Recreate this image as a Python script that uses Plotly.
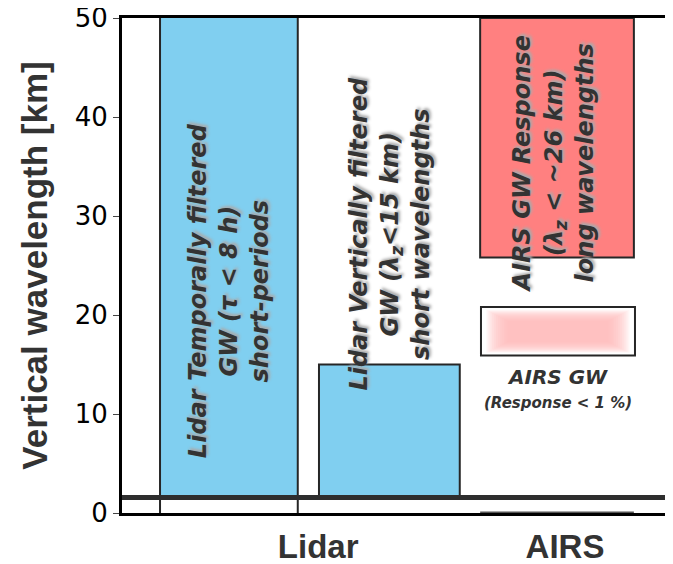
import plotly.graph_objects as go

# ---- data ----
categories = ["Lidar", "AIRS"]
category_pos = [3.56, 8.04]
y_ticks = [0, 10, 20, 30, 40, 50]

# boxes: x extents (category units) and y extents (km)
lidar_temporal_x = [0.69, 3.19]
lidar_temporal_y = [1.57, 50]
lidar_vertical_x = [3.575, 6.13]
lidar_vertical_y = [1.57, 15]
airs_resp_x = [6.50, 9.29]
airs_resp_y = [25.8, 50]
airs_weak_x = [6.515, 9.31]
airs_weak_y = [15.9, 20.8]
baseline_y = 1.57

labels = [
    "Lidar Temporally filtered<br>GW (τ < 8 h)<br>short-periods",
    "Lidar Vertically filtered<br>GW (λ<sub>z</sub><15 km)<br>short wavelengths",
    "AIRS GW Response<br>(λ<sub>z</sub> < ~26 km)<br>long wavelengths",
]
label_pos = [(1.94, 22.5), (4.86, 28.2), (7.82, 35.3)]

BLUE = "#80CFF0"
RED = "#FF8080"
EDGE = "#262626"
TXT_FONT = "DejaVu Sans"

fig = go.Figure()
fig.add_trace(go.Scatter(x=[0, 10], y=[0, 50], mode="markers",
                         marker=dict(opacity=0), hoverinfo="skip", showlegend=False))

shapes = []
shapes.append(dict(type="rect", x0=lidar_temporal_x[0], x1=lidar_temporal_x[1],
                   y0=lidar_temporal_y[0], y1=lidar_temporal_y[1],
                   fillcolor=BLUE, line=dict(width=0), layer="below"))
for xv in lidar_temporal_x:
    shapes.append(dict(type="line", x0=xv, x1=xv, y0=0, y1=50,
                       line=dict(color=EDGE, width=2)))
shapes.append(dict(type="rect", x0=lidar_vertical_x[0], x1=lidar_vertical_x[1],
                   y0=lidar_vertical_y[0], y1=lidar_vertical_y[1],
                   fillcolor=BLUE, line=dict(color=EDGE, width=2), layer="below"))
shapes.append(dict(type="rect", x0=airs_resp_x[0], x1=airs_resp_x[1],
                   y0=airs_resp_y[0], y1=airs_resp_y[1],
                   fillcolor=RED, line=dict(color=EDGE, width=2), layer="below"))
shapes.append(dict(type="rect", x0=airs_weak_x[0], x1=airs_weak_x[1],
                   y0=airs_weak_y[0], y1=airs_weak_y[1],
                   fillcolor="white", line=dict(color=EDGE, width=2), layer="below"))
wx0, wx1 = airs_weak_x
wy0, wy1 = airs_weak_y
n = 12
for i in range(n):
    dx = 0.10 + 0.035 * i
    dy = 0.30 + 0.10 * i
    shapes.append(dict(type="rect", x0=wx0 + dx, x1=wx1 - dx, y0=wy0 + dy, y1=wy1 - dy,
                       fillcolor="#FFB8B8", opacity=0.14, line=dict(width=0), layer="below"))
shapes.append(dict(type="line", xref="paper", x0=0, x1=1, y0=baseline_y, y1=baseline_y,
                   line=dict(color="#2e2e2e", width=5)))
shapes.append(dict(type="line", x0=airs_resp_x[0], x1=airs_resp_x[1], y0=0, y1=0,
                   line=dict(color="#555555", width=3)))

annotations = []
for txt, (ax, ay) in zip(labels, label_pos):
    annotations.append(dict(x=ax, y=ay, text=txt, showarrow=False, textangle=-90,
                            font=dict(family=TXT_FONT, size=24, color="#333333",
                                      style="italic", weight="bold",
                                      shadow="2px 2px 3px #aaaaaa")))
annotations.append(dict(x=7.91, y=13.7, text="AIRS GW", showarrow=False,
                        font=dict(family=TXT_FONT, size=20, color="#333333",
                                  style="italic", weight="bold")))
annotations.append(dict(x=7.91, y=11.1, text="(Response < 1 %)", showarrow=False,
                        font=dict(family=TXT_FONT, size=15, color="#333333",
                                  style="italic", weight="bold")))

# page body has an 8px margin: size the figure to fit exactly in the 673x564 window
fig.update_layout(
    width=665, height=556,
    margin=dict(l=114, r=0, t=10, b=51),
    plot_bgcolor="white", paper_bgcolor="white",
    shapes=shapes, annotations=annotations,
    showlegend=False,
    xaxis=dict(range=[0, 10], tickvals=category_pos, ticktext=categories,
               automargin=False,
               showgrid=False, zeroline=False, showline=True, linecolor="black",
               linewidth=3, mirror=True, ticks="", ticklabelstandoff=2,
               tickfont=dict(family="Liberation Sans", size=33, color="#333333", weight="bold")),
    yaxis=dict(range=[0, 50], tickvals=y_ticks, showgrid=False, zeroline=False,
               automargin=False, ticklabeloverflow="allow",
               showline=True, linecolor="black", linewidth=3, ticks="outside",
               ticklen=6, tickcolor="#444444", tickwidth=1,
               tickfont=dict(family="DejaVu Sans", size=26, color="black"),
               title=dict(text="Vertical wavelength [km]", standoff=17,
                          font=dict(family="Liberation Sans", size=35, color="#333333",
                                    weight="bold"))),
)

fig.write_html("out.html")
